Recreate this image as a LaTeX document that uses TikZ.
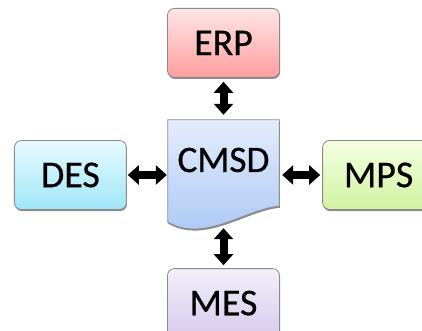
\documentclass[tikz,border=0pt]{standalone}
\usepackage{fontspec}
\setmainfont{Carlito}
\usetikzlibrary{arrows.meta,positioning,shadows,backgrounds}

\definecolor{erptop}{HTML}{FFE6E6}
\definecolor{erpbot}{HTML}{FF9E9E}
\definecolor{destop}{HTML}{E8FBFF}
\definecolor{desbot}{HTML}{9FE6F8}
\definecolor{mpstop}{HTML}{F5FFE2}
\definecolor{mpsbot}{HTML}{D0F3A0}
\definecolor{mestop}{HTML}{F3EFFA}
\definecolor{mesbot}{HTML}{D6CAEC}
\definecolor{doctop}{HTML}{E4ECFC}
\definecolor{docbot}{HTML}{A8C6F4}
\definecolor{rim}{HTML}{8A8A8A}

\begin{document}
\begin{tikzpicture}[x=1bp,y=1bp,node distance=40bp,
	box/.style={draw=rim,line width=0.8bp,rounded corners=7bp,
		minimum width=112bp,minimum height=69bp,inner sep=0pt,
		font=\fontsize{38}{40}\selectfont\addfontfeatures{FakeBold=0.6},
		drop shadow={shadow xshift=0.6bp,shadow yshift=-1.6bp,fill=black,opacity=0.45}},
	docbox/.style={minimum width=111bp,minimum height=80bp,inner sep=0pt,
		font=\fontsize{37.5}{40}\selectfont\addfontfeatures{FakeBold=0.6}},
	docshape/.style={draw=rim,line width=0.8bp,top color=doctop,bottom color=docbot,
		drop shadow={shadow xshift=0.6bp,shadow yshift=-1.6bp,fill=black,opacity=0.45}},
	link/.style={line width=8bp,{Triangle[width=19bp,length=11bp]}-{Triangle[width=19bp,length=11bp]},
		shorten >=2bp,shorten <=2bp}]
	\clip (0,0) rectangle (422,331);

	\node[docbox] (CMSD) at (223.5,171) {CMSD};
	\node[box,top color=erptop,bottom color=erpbot] (ERP) [above = 42bp of CMSD] {ERP};
	\node[box,top color=destop,bottom color=desbot] (DES) [left = 41bp of CMSD,yshift=-15bp] {DES};
	\node[box,top color=mpstop,bottom color=mpsbot] (MPS) [right = 43bp of CMSD,yshift=-15bp] {MPS};
	\node[box,top color=mestop,bottom color=mesbot] (MES) [below = 68bp of CMSD] {MES};

	% document outline with wavy bottom
	\coordinate (CMSDleft) at ([yshift=-22bp]CMSD.south west);
	\coordinate (CMSDright) at ([yshift=-6bp]CMSD.south east);
	\coordinate (CMSDwave) at ([yshift=-23bp]CMSD.south);
	\begin{scope}[on background layer]
		\path[docshape] (CMSD.north west) -- (CMSDleft)
			.. controls +(37,-21) and +(-34,-3) .. (CMSDright)
			-- (CMSD.north east) -- cycle;
	\end{scope}

	\draw[link,shorten <=4bp,shorten >=5bp] (ERP.south) -- (CMSD.north);
	\draw[link,shorten <=1bp,shorten >=1bp] (DES.east) -- (DES.east -| CMSD.west);
	\draw[link,shorten <=2bp,shorten >=3bp] (MPS.west) -- (MPS.west -| CMSD.east);
	\draw[link,shorten <=5bp,shorten >=3bp] (CMSDwave) -- (MES.north);
\end{tikzpicture}
\end{document}
